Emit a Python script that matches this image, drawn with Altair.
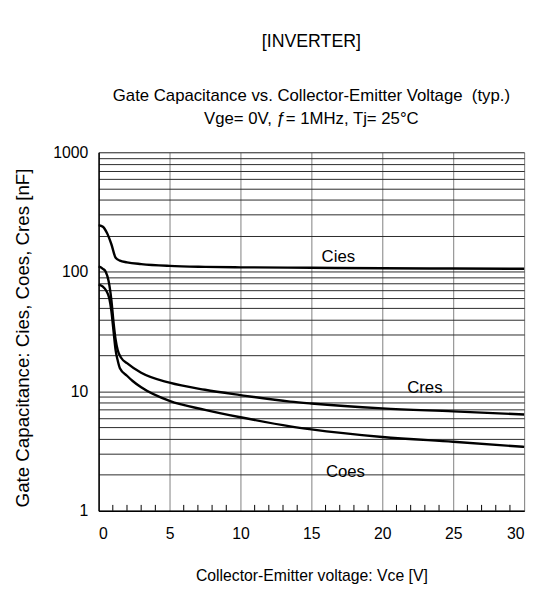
import altair as alt
import pandas as pd

# ---- data ----
cies_v = [0, 0.3, 0.6, 0.9, 1.2, 1.5, 2, 3, 5, 7.5, 10, 15, 20, 25, 30]
cies_c = [246, 238, 210, 170, 131, 124, 120, 116, 112, 110, 109, 108, 107, 106.5, 106]

cres_v = [0, 0.3, 0.5, 0.7, 0.9, 1.05, 1.2, 1.35, 1.6, 2, 3, 5, 7.5, 10, 13.5, 15, 20, 25, 30]
cres_c = [111, 106, 100, 84, 58, 38, 27, 22, 19, 17.2, 14.3, 11.8, 10.3, 9.3, 8.2, 7.9, 7.2, 6.8, 6.4]

coes_v = [0, 0.3, 0.55, 0.75, 0.9, 1.05, 1.2, 1.35, 1.5, 2, 2.4, 3, 5, 7.5, 10, 13.5, 15, 20, 25, 30]
coes_c = [78, 75, 69, 60, 47, 32, 22, 18, 15.6, 13.5, 12.2, 10.8, 8.3, 7.0, 6.07, 5.09, 4.8, 4.15, 3.78, 3.43]

label_names = ["Cies", "Cres", "Coes"]
label_v = [16.9, 23.0, 17.4]
label_c = [134, 10.7, 2.1]

x_major = [0, 5, 10, 15, 20, 25, 30]
x_minor = [v for v in range(1, 30) if v % 5 != 0]
y_grid = [m * 10 ** e for e in range(3) for m in range(1, 10)] + [1000]

FONT = "Liberation Sans"
W, H = 432, 364

rows = []
for name, vs, cs in [("Cies", cies_v, cies_c), ("Cres", cres_v, cres_c), ("Coes", coes_v, coes_c)]:
    for i, (v, c) in enumerate(zip(vs, cs)):
        rows.append({"series": name, "vce": v, "cap": c, "order": i})
df = pd.DataFrame(rows)

x_scale = alt.Scale(domain=[0, 30], nice=False, zero=False)
y_scale = alt.Scale(type="log", domain=[1, 1000], nice=False)

x_axis = alt.Axis(
    values=x_major, title="Collector-Emitter voltage: Vce [V]", grid=True,
    gridColor="#808080", gridWidth=1, ticks=False, domainColor="black", domainWidth=1.5,
    labelFont=FONT, labelFontSize=16, labelColor="black", labelPadding=15,
    titleFont=FONT, titleFontSize=16, titleFontWeight="normal", titleColor="black",
    titleX=W / 2, titleY=66, titleBaseline="middle", titleAlign="center")
y_axis = alt.Axis(
    values=y_grid, title="Gate Capacitance: Cies, Coes, Cres [nF]", grid=True,
    gridColor="#2a2a2a", gridWidth=1, ticks=False, domainColor="black", domainWidth=1.5,
    labelExpr="(datum.value == 1 || datum.value == 10 || datum.value == 100 || datum.value == 1000) ? datum.value : ''",
    labelFont=FONT, labelFontSize=16, labelColor="black", labelPadding=11,
    titleFont=FONT, titleFontSize=19, titleFontWeight="normal", titleColor="black",
    titleX=-77, titleY=188, titleAngle=-90, titleBaseline="middle", titleAlign="center")

lines = alt.Chart(df).mark_line(color="black", strokeWidth=2.4, interpolate="monotone").encode(
    x=alt.X("vce:Q", scale=x_scale, axis=x_axis),
    y=alt.Y("cap:Q", scale=y_scale, axis=y_axis),
    detail="series:N",
    order="order:Q",
)

minor = alt.Chart(pd.DataFrame({"vce": x_minor})).mark_rule(color="black", strokeWidth=1).encode(
    x=alt.X("vce:Q", scale=x_scale),
    y=alt.value(H),
    y2=alt.value(H - 6),
)

labels = alt.Chart(pd.DataFrame({"name": label_names, "vce": label_v, "cap": label_c})).mark_text(
    font=FONT, fontSize=17, color="black"
).encode(
    x=alt.X("vce:Q", scale=x_scale),
    y=alt.Y("cap:Q", scale=y_scale),
    text="name:N",
)

chart = alt.layer(lines, minor, labels).properties(
    width=W, height=H,
    title=alt.TitleParams(
        text="[INVERTER]",
        subtitle=["Gate Capacitance vs. Collector-Emitter Voltage \u00a0(typ.)",
                  "Vge= 0V, \u0192= 1MHz, Tj= 25\u00b0C"],
        font=FONT, fontSize=18, fontWeight="normal", color="black",
        subtitleFont=FONT, subtitleFontSize=17, subtitleColor="black",
        subtitleLineHeight=23, subtitlePadding=38, anchor="middle", offset=18,
    ),
    autosize=alt.AutoSizeParams(type="none"),
    padding={"left": 92, "top": 142, "right": 9, "bottom": 82},
).configure_view(stroke="black", strokeWidth=1.5).configure(background="white")

chart.save("out.html", embed_options={"renderer": "svg", "actions": False})
